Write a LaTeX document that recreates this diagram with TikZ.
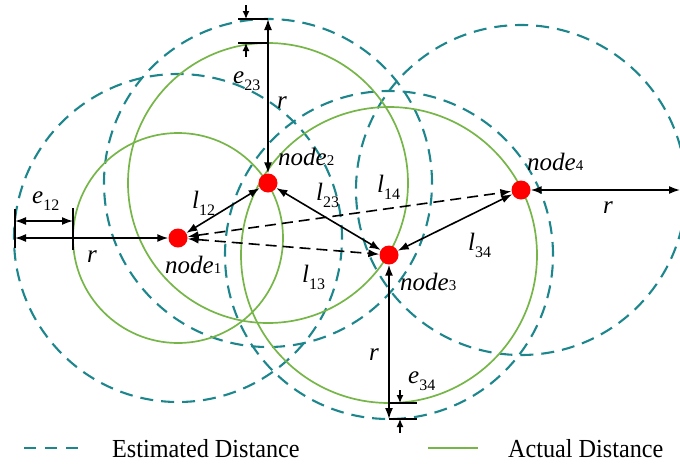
\documentclass[tikz,border=0pt]{standalone}
\usepackage{fontspec}
\setmainfont{Liberation Serif}
\usetikzlibrary{arrows.meta}
\definecolor{tealD}{RGB}{28,134,140}
\definecolor{grnA}{RGB}{118,182,72}
\newcommand\lsub[2]{\textit{#1}\raisebox{-0.28em}{\fontsize{16}{16}\selectfont #2}}
\newcommand\nlab[1]{\textit{node}{\fontsize{15}{15}\selectfont #1}}
\begin{document}
\begin{tikzpicture}[x=1pt,y=-1pt,
 estim/.style={draw=tealD,line width=2.1pt,dash pattern=on 13pt off 8pt},
 actual/.style={draw=grnA,line width=1.7pt},
 conn/.style={draw=black,line width=1.6pt,{Latex[length=11pt,width=8pt]}-{Latex[length=11pt,width=8pt]}},
 dconn/.style={conn,dash pattern=on 11pt off 6pt},
 dot/.style={circle,fill=red,minimum size=19pt,inner sep=0pt},
 lbl/.style={anchor=base west,inner sep=0pt,font=\fontsize{25}{29}\selectfont},
 leg/.style={anchor=base west,inner sep=0pt,font=\fontsize{26}{30}\selectfont},
 tickline/.style={draw=black,line width=1.6pt},
 smallarr/.style={draw=black,line width=1.3pt,-{Latex[length=8pt,width=7pt]}}
]
\useasboundingbox (0,0) rectangle (680,464);
\clip (0,0) rectangle (680,464);
\coordinate (c1) at (178,238);
\coordinate (c2) at (268,183);
\coordinate (c3) at (389,255);
\coordinate (c4) at (521,190);
% estimated (dashed) circles
\draw[estim] (c1) circle[radius=164pt];
\draw[estim] (c2) circle[radius=164pt];
\draw[estim] (c3) circle[radius=164pt];
\draw[estim] (c4) circle[radius=165pt];
% actual (green) circles
\draw[actual] (c1) circle[radius=105pt];
\draw[actual] (c2) circle[radius=140pt];
\draw[actual] (c3) circle[radius=148pt];
% nodes
\node[dot] (n1) at (c1) {};
\node[dot] (n2) at (c2) {};
\node[dot] (n3) at (c3) {};
\node[dot] (n4) at (c4) {};
% node connectors
\draw[conn] (n1) -- (n2);
\draw[conn] (n2) -- (n3);
\draw[conn] (n3) -- (n4);
\draw[dconn] (n1) -- (n3);
\draw[dconn] (n1) -- (n4);
% node1 r and e12
\coordinate (a1) at (15,209); \coordinate (a2) at (15,248);
\coordinate (b1) at (73,208); \coordinate (b2) at (73,250);
\coordinate (e1l) at (15,221); \coordinate (e1r) at (73,221);
\coordinate (r1) at (15,238);
\draw[tickline] (a1) -- (a2);
\draw[tickline] (b1) -- (b2);
\draw[conn] (e1l) -- (e1r);
\draw[conn] (r1) -- (n1);
% node2 r and e23
\coordinate (r2) at (268,19);
\coordinate (t2a) at (238,19); \coordinate (t2b) at (238,43); \coordinate (t2c) at (268,43);
\coordinate (s2a) at (246,5); \coordinate (s2b) at (246,19);
\coordinate (s2c) at (246,57); \coordinate (s2d) at (246,43);
\draw[conn] (r2) -- (n2);
\draw[tickline] (t2a) -- (r2);
\draw[tickline] (t2b) -- (t2c);
\draw[smallarr] (s2a) -- (s2b);
\draw[smallarr] (s2c) -- (s2d);
% node3 r and e34
\coordinate (r3) at (389,419);
\coordinate (t3a) at (417,403); \coordinate (t3b) at (389,403); \coordinate (t3c) at (417,419);
\coordinate (s3a) at (400,390); \coordinate (s3b) at (400,403);
\coordinate (s3c) at (400,433); \coordinate (s3d) at (400,419);
\draw[conn] (r3) -- (n3);
\draw[tickline] (t3b) -- (t3a);
\draw[tickline] (r3) -- (t3c);
\draw[smallarr] (s3a) -- (s3b);
\draw[smallarr] (s3c) -- (s3d);
% node4 r
\coordinate (r4) at (680,190);
\draw[conn] (r4) -- (n4);
% labels
\node[lbl] (le12) at (32,203) {\lsub{e}{12}};
\node[lbl] (lr1) at (87,262) {\textit{r}};
\node[lbl] (le23) at (233,83) {\lsub{e}{23}};
\node[lbl] (lr2) at (277,108) {\textit{r}};
\node[lbl] (ln2) at (278,165) {\nlab{2}};
\node[lbl] (ll12) at (192,208) {\lsub{l}{12}};
\node[lbl] (ll23) at (316,200) {\lsub{l}{23}};
\node[lbl] (ll14) at (377,192) {\lsub{l}{14}};
\node[lbl] (ll13) at (302,282) {\lsub{l}{13}};
\node[lbl] (ln1) at (165,273) {\nlab{1}};
\node[lbl] (ln3) at (400,290) {\nlab{3}};
\node[lbl] (ln4) at (527,170) {\nlab{4}};
\node[lbl] (ll34) at (468,250) {\lsub{l}{34}};
\node[lbl] (lr3) at (369,360) {\textit{r}};
\node[lbl] (le34) at (408,383) {\lsub{e}{34}};
\node[lbl] (lr4) at (603,213) {\textit{r}};
% legend
\coordinate (lg1) at (24,448); \coordinate (lg2) at (82,448);
\coordinate (lg3) at (428,448); \coordinate (lg4) at (478,448);
\draw[estim,dash pattern=on 12pt off 9pt] (lg1) -- (lg2);
\draw[actual] (lg3) -- (lg4);
\node[leg] (lt1) at (112,457) {\scalebox{0.93}[1]{Estimated Distance}};
\node[leg] (lt2) at (508,457) {\scalebox{0.93}[1]{Actual Distance}};
\end{tikzpicture}
\end{document}
